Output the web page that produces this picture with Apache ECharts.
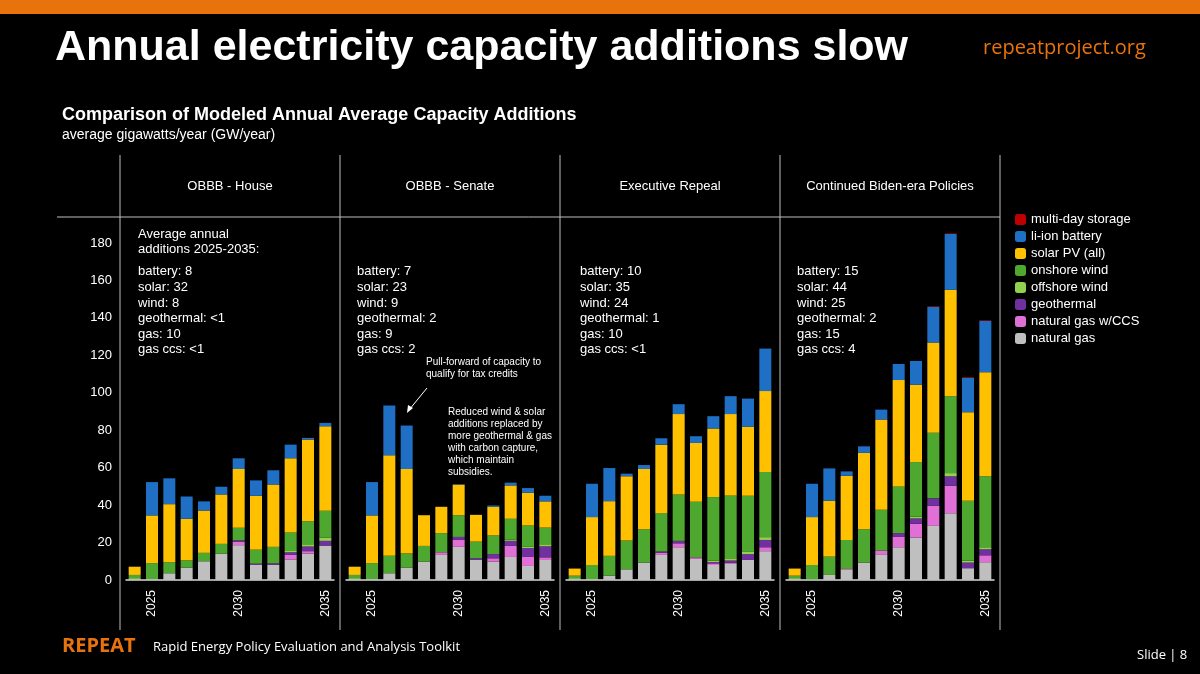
<!DOCTYPE html>
<html>
<head>
<meta charset="utf-8">
<script src="https://cdn.jsdelivr.net/npm/echarts@6/dist/echarts.min.js"></script>
<style>
  html, body { margin: 0; padding: 0; background: #000; }
  #chart { width: 1200px; height: 674px; }
</style>
</head>
<body>
<div id="chart"></div>
<script>
var years = ['2024','2025','2026','2027','2028','2029','2030','2031','2032','2033','2034','2035'];
var panelTitles = ['OBBB - House', 'OBBB - Senate', 'Executive Repeal', 'Continued Biden-era Policies'];
var yTicks = [0, 20, 40, 60, 80, 100, 120, 140, 160, 180];

// GW/year per technology, bottom of stack first
var house = {
  gas:     [0.5, 0.5, 3.6, 6.6, 10, 14.1, 18.6, 8, 8.2, 11, 14.1, 18.4],
  ccs:     [0, 0, 0, 0, 0, 0, 1.9, 0, 0, 2.4, 1.3, 0],
  geo:     [0, 0, 0, 0, 0, 0, 0.7, 0.7, 0.7, 1.4, 2.5, 2.5],
  offwind: [0.5, 0, 0, 0, 0, 0, 0, 0, 0, 0.7, 1.2, 1.8],
  onwind:  [1.7, 8.5, 5.9, 3.9, 4.5, 5.2, 6.7, 7.5, 8.8, 9.9, 12.3, 14.3],
  solar:   [4.4, 25.5, 31, 22.2, 22.6, 26.4, 31.4, 28.8, 33.3, 39.6, 43.6, 45.1],
  battery: [0, 17.8, 13.8, 11.9, 4.9, 4.1, 5.7, 8.2, 7.6, 7.3, 0.9, 1.8],
  multiday:[0, 0, 0, 0, 0, 0, 0, 0, 0, 0, 0, 0]
};
var senate = {
  gas:     [0.5, 0.5, 3.6, 6.6, 9.8, 13.4, 17.7, 10.7, 9.8, 12.3, 7.5, 10.7],
  ccs:     [0, 0, 0, 0, 0, 1.4, 3.9, 0, 1.8, 5.9, 4.8, 1.4],
  geo:     [0, 0, 0, 0, 0, 0, 1.4, 0.9, 2.2, 2.7, 4.8, 5.9],
  offwind: [0.5, 0, 0, 0, 0, 0, 0, 0, 0, 0.7, 0.6, 1.1],
  onwind:  [1.7, 8.5, 9.3, 7.5, 8.4, 10.2, 11.6, 8.9, 10, 11.1, 11.4, 8.9],
  solar:   [4.4, 25.5, 53.7, 45.2, 16.4, 14.1, 16.3, 14.3, 15.3, 17.8, 17.5, 14],
  battery: [0, 17.8, 26.6, 23.2, 0, 0, 0.3, 0, 0.7, 1.5, 2.5, 3],
  multiday:[0, 0, 0, 0, 0, 0, 0, 0, 0, 0, 0, 0]
};
var repeal = {
  gas:     [0.5, 0.5, 2.3, 5.7, 9.3, 13.4, 17.5, 11.3, 8, 8.6, 10.7, 15.4],
  ccs:     [0, 0, 0, 0, 0, 1.2, 2.1, 0.8, 0.9, 0.7, 0, 2.1],
  geo:     [0, 0, 0, 0, 0, 0.6, 1.3, 0, 0.7, 1.1, 3.1, 3.9],
  offwind: [0.5, 0, 0, 0, 0, 0, 0, 0, 0.8, 1.2, 1.2, 1.5],
  onwind:  [1.3, 7.5, 10.6, 15.4, 17.8, 20.5, 24.8, 29.7, 33.9, 33.6, 30, 34.8],
  solar:   [3.8, 25.6, 29.2, 34.3, 32.2, 36.6, 42.9, 31.4, 36.6, 43.4, 36.8, 43.2],
  battery: [0, 17.8, 17.7, 1.4, 2.1, 3.4, 5.3, 3.6, 6.6, 9.6, 15.1, 22.7],
  multiday:[0, 0, 0, 0, 0, 0, 0, 0, 0, 0, 0, 0]
};
var biden = {
  gas:     [0.5, 0.4, 2.7, 5.4, 9.3, 13.4, 17.5, 22.7, 28.9, 35.7, 6.3, 9.5],
  ccs:     [0, 0, 0, 0.5, 0, 2.3, 5.7, 7.3, 10.7, 14.7, 0, 3.7],
  geo:     [0, 0, 0, 0, 0, 0, 1.8, 2.9, 4, 5, 3, 3.2],
  offwind: [0.5, 0, 0, 0, 0, 0, 0, 1, 0, 1.7, 1.1, 1.1],
  onwind:  [1.3, 7.6, 9.8, 15.5, 17.8, 21.8, 25, 29.1, 35, 41.1, 31.9, 37.9],
  solar:   [3.8, 25.6, 29.8, 34.3, 40.8, 48.2, 56.8, 41.3, 48.2, 56.8, 47.3, 55.6],
  battery: [0, 17.8, 17.3, 2.3, 3.5, 5.3, 8.6, 12.7, 19.1, 29.8, 18.4, 27.4],
  multiday:[0, 0, 0, 0, 0, 0, 0, 0, 0.3, 0.3, 0.3, 0.3]
};
var summaries = [
  ['battery: 8', 'solar: 32', 'wind: 8', 'geothermal: <1', 'gas: 10', 'gas ccs: <1'],
  ['battery: 7', 'solar: 23', 'wind: 9', 'geothermal: 2', 'gas: 9', 'gas ccs: 2'],
  ['battery: 10', 'solar: 35', 'wind: 24', 'geothermal: 1', 'gas: 10', 'gas ccs: <1'],
  ['battery: 15', 'solar: 44', 'wind: 25', 'geothermal: 2', 'gas: 15', 'gas ccs: 4']
];

var techs = [
  { key: 'gas', name: 'natural gas', color: '#bfbfbf' },
  { key: 'ccs', name: 'natural gas w/CCS', color: '#e070d6' },
  { key: 'geo', name: 'geothermal', color: '#7030a0' },
  { key: 'offwind', name: 'offshore wind', color: '#92d050' },
  { key: 'onwind', name: 'onshore wind', color: '#4ea72e' },
  { key: 'solar', name: 'solar PV (all)', color: '#ffc000' },
  { key: 'battery', name: 'li-ion battery', color: '#1f6fc4' },
  { key: 'multiday', name: 'multi-day storage', color: '#c00000' }
];
var panels = [house, senate, repeal, biden];

var myChart = echarts.init(document.getElementById('chart'));

var panelLeft = [120, 340, 560, 780];
var grids = [], xAxes = [], yAxes = [], series = [];
panels.forEach(function (p, i) {
  grids.push({ left: panelLeft[i] + 6, width: 208, top: 243, bottom: 94 });
  xAxes.push({
    type: 'category', gridIndex: i, data: years,
    axisLine: { lineStyle: { color: '#d9d9d9', width: 1.5 } },
    axisTick: { show: false },
    axisLabel: {
      interval: 0, rotate: 90, color: '#fff', fontSize: 12, margin: 10,
      fontFamily: 'Liberation Sans',
      formatter: function (v) { return (v === '2025' || v === '2030' || v === '2035') ? v : ''; }
    }
  });
  yAxes.push({
    type: 'value', gridIndex: i, min: 0, max: 180, interval: 20,
    splitLine: { show: false }, axisLine: { show: false }, axisTick: { show: false },
    axisLabel: { show: i === 0, color: '#fff', fontSize: 13, margin: 14, fontFamily: 'Liberation Sans' }
  });
  techs.forEach(function (t) {
    series.push({
      name: t.name, type: 'bar', stack: 'p' + i, xAxisIndex: i, yAxisIndex: i,
      data: p[t.key], barWidth: 12, clip: false,
      itemStyle: { color: t.color }
    });
  });
});

var txt = function (x, y, text, style) {
  return { type: 'text', left: x, top: y, style: Object.assign({ text: text, fill: '#fff', font: '13px "Liberation Sans"' }, style || {}) };
};
var graphics = [
  { type: 'rect', shape: { x: 0, y: 0, width: 1200, height: 14 }, style: { fill: '#e8730c' } },
  txt(55, 27, 'Annual electricity capacity additions slow', { font: 'bold 43px "Liberation Sans"' }),
  txt(983, 38, 'repeatproject.org', { fill: '#e8730c', font: '20px "Open Sans"' }),
  txt(62, 106, 'Comparison of Modeled Annual Average Capacity Additions', { font: 'bold 18px "Liberation Sans"' }),
  txt(62, 128, 'average gigawatts/year (GW/year)', { font: '14px "Liberation Sans"' }),
  { type: 'line', shape: { x1: 57, y1: 217, x2: 1000, y2: 217 }, style: { stroke: '#bfbfbf', lineWidth: 1 } },
  txt(62, 636, 'REPEAT', { fill: '#e8730c', font: 'bold 20px "Open Sans"' }),
  txt(153, 641, 'Rapid Energy Policy Evaluation and Analysis Toolkit', { font: '13px "Open Sans"' }),
  txt(1137, 649, 'Slide | 8', { font: '13px "Open Sans"' }),
  txt(138, 227, 'Average annual\nadditions 2025-2035:', { lineHeight: 15 }),
  txt(426, 356, 'Pull-forward of capacity to\nqualify for tax credits', { font: '10px "Liberation Sans"', lineHeight: 12 }),
  txt(448, 406, 'Reduced wind & solar\nadditions replaced by\nmore geothermal & gas\nwith carbon capture,\nwhich maintain\nsubsidies.', { font: '10px "Liberation Sans"', lineHeight: 12 }),
  { type: 'line', shape: { x1: 427, y1: 388, x2: 409, y2: 410 }, style: { stroke: '#fff', lineWidth: 1 } },
  { type: 'polygon', shape: { points: [[407, 413], [408, 405], [413, 408]] }, style: { fill: '#fff' } }
];
[120, 340, 560, 780, 1000].forEach(function (x) {
  graphics.push({ type: 'line', shape: { x1: x, y1: 155, x2: x, y2: 630 }, style: { stroke: '#bfbfbf', lineWidth: 1 } });
});
var summaryX = [138, 357, 580, 797];
panelTitles.forEach(function (t, i) {
  graphics.push({ type: 'text', x: panelLeft[i] + 110, y: 186,
    style: { text: t, fill: '#fff', font: '13px "Liberation Sans"', align: 'center', verticalAlign: 'middle' } });
  graphics.push(txt(summaryX[i], 264, summaries[i].join('\n'), { lineHeight: 15.6 }));
});

option = {
  backgroundColor: '#000',
  animation: false,
  legend: {
    orient: 'vertical', left: 1010, top: 208, itemWidth: 11, itemHeight: 11, itemGap: 4,
    textStyle: { color: '#fff', fontSize: 13, fontFamily: 'Liberation Sans' },
    data: techs.map(function (t) { return t.name; }).reverse()
  },
  grid: grids,
  xAxis: xAxes,
  yAxis: yAxes,
  series: series,
  graphic: graphics
};

myChart.setOption(option);
</script>
</body>
</html>
